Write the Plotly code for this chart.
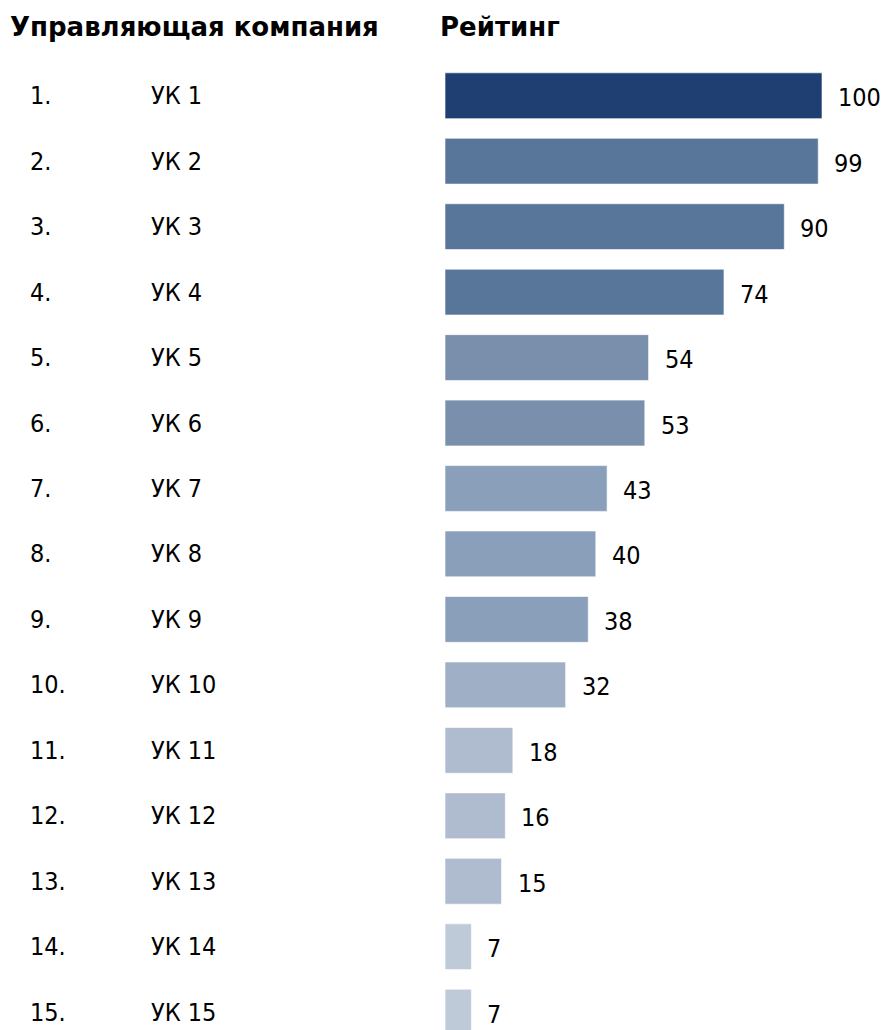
import plotly.graph_objects as go

ranks = ["1.", "2.", "3.", "4.", "5.", "6.", "7.", "8.", "9.", "10.", "11.", "12.", "13.", "14.", "15."]
companies = ["УК 1", "УК 2", "УК 3", "УК 4", "УК 5", "УК 6", "УК 7", "УК 8", "УК 9", "УК 10",
             "УК 11", "УК 12", "УК 13", "УК 14", "УК 15"]
ratings = [100, 99, 90, 74, 54, 53, 43, 40, 38, 32, 18, 16, 15, 7, 7]
header_left = "Управляющая компания"
header_right = "Рейтинг"

bar_colors = ["#1F3F73", "#587699", "#587699", "#587699", "#798FAC", "#798FAC",
              "#8A9FBA", "#8A9FBA", "#8A9FBA", "#9FAFC5", "#AFBCCF", "#AFBCCF",
              "#AFBCCF", "#BFCAD9", "#BFCAD9"]

W, H = 884, 1030
ML, MT = 445, 63
XSCALE = 3.77  # px per unit
FONT = "DejaVu Sans Condensed, DejaVu Sans"
HFONT = "DejaVu Sans"
PW = W - ML

fig = go.Figure(go.Bar(
    x=ratings, y=companies, orientation="h",
    marker=dict(color=bar_colors, line=dict(color="rgba(255,255,255,0.6)", width=1)),
    width=0.70, hoverinfo="skip",
))

ann = []
for c, r, v in zip(companies, ranks, ratings):
    ann.append(dict(x=v, y=c, xref="x", yref="y", text=str(v), showarrow=False,
                    xanchor="left", xshift=14, yshift=-2,
                    font=dict(family=FONT, size=25, color="black")))
    ann.append(dict(x=(28 - ML) / PW, y=c, xref="paper", yref="y", text=r, showarrow=False,
                    xanchor="left", yshift=0, font=dict(family=FONT, size=25, color="black")))
    ann.append(dict(x=(149 - ML) / PW, y=c, xref="paper", yref="y", text=c, showarrow=False,
                    xanchor="left", yshift=0, font=dict(family=FONT, size=25, color="black")))

ann.append(dict(x=(8 - ML) / PW, y=1, xref="paper", yref="paper", yshift=36,
                text="<b>" + header_left + "</b>", showarrow=False, xanchor="left",
                yanchor="middle", font=dict(family=HFONT, size=26, color="black")))
ann.append(dict(x=(438 - ML) / PW, y=1, xref="paper", yref="paper", yshift=36,
                text="<b>" + header_right + "</b>", showarrow=False, xanchor="left",
                yanchor="middle", font=dict(family=HFONT, size=26, color="black")))

row_px = 65.46
bottom = -0.5 + (H - MT) / row_px

fig.update_layout(
    width=W, height=H,
    margin=dict(l=ML, r=0, t=MT, b=0),
    paper_bgcolor="white", plot_bgcolor="white",
    showlegend=False,
    xaxis=dict(range=[0, PW / XSCALE], visible=False, fixedrange=True),
    yaxis=dict(categoryorder="array", categoryarray=companies,
               range=[bottom, -0.5], visible=False, fixedrange=True),
    annotations=ann,
)

fig.write_html("out.html", config={"displayModeBar": False},
               post_script="document.body.style.margin='0';document.body.style.overflow='hidden';")
